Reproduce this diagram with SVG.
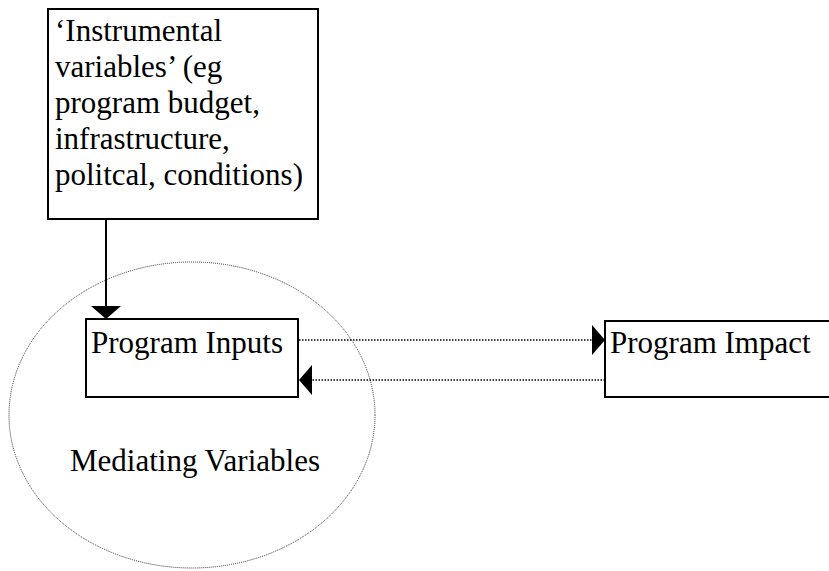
<svg xmlns="http://www.w3.org/2000/svg" width="829" height="571" viewBox="0 0 829 571">
<style>
  text { font-family: "Liberation Serif", "Times New Roman", serif; font-size: 31px; fill: #000; }
  .box { fill: #fff; stroke: #000; stroke-width: 2; }
  .dot { stroke: #000; stroke-width: 1.5; stroke-dasharray: 1.5 1.5; fill: none; }
  .solid { stroke: #000; stroke-width: 2; fill: none; }
</style>
<defs>
  <marker id="ah" markerUnits="userSpaceOnUse" markerWidth="14" markerHeight="31" refX="13" refY="15" orient="auto" viewBox="0 0 14 31">
    <path d="M0,0 L13,15 L0,30 z" fill="#000"/>
  </marker>
</defs>
<g id="mediating">
  <ellipse cx="192" cy="415" rx="183" ry="153" fill="none" stroke="#333" stroke-width="1" stroke-dasharray="1 1"/>
  <text x="70" y="471">Mediating Variables</text>
</g>
<g id="instrumental">
  <rect class="box" x="48" y="9" width="270" height="210"/>
  <text x="55" y="41">‘Instrumental</text>
  <text x="55" y="77">variables’ (eg</text>
  <text x="55" y="113">program budget,</text>
  <text x="55" y="149">infrastructure,</text>
  <text x="55" y="185">politcal, conditions)</text>
</g>
<g id="inputs">
  <rect class="box" x="86" y="319" width="212" height="78"/>
  <text x="91" y="353">Program Inputs</text>
</g>
<g id="impact">
  <rect class="box" x="605" y="321" width="240" height="76"/>
  <text x="610" y="353">Program Impact</text>
</g>
<g id="connectors">
  <line class="solid" x1="106" y1="219" x2="106" y2="319" marker-end="url(#ah)"/>
  <line class="dot" x1="299" y1="340" x2="605" y2="340" marker-end="url(#ah)"/>
  <line class="dot" x1="605" y1="380" x2="299" y2="380" marker-end="url(#ah)"/>
</g>
</svg>
